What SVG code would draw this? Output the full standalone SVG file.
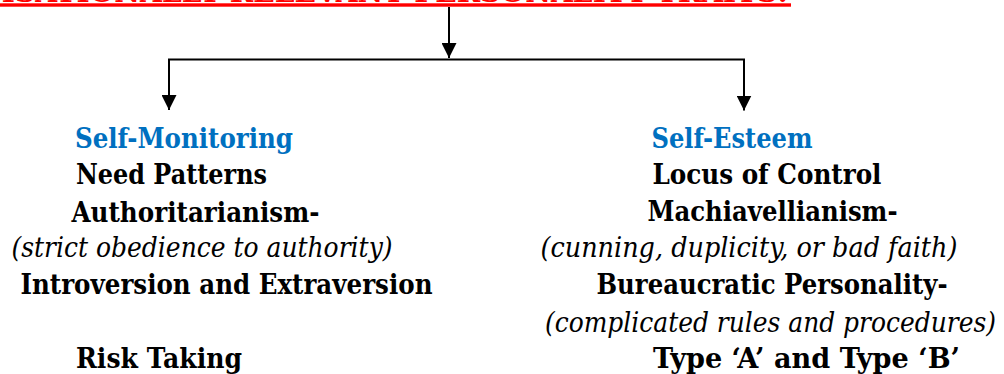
<svg xmlns="http://www.w3.org/2000/svg" width="1004" height="374" viewBox="0 0 1004 374">
<style>
text{font-family:'DejaVu Serif','Liberation Serif',serif;font-size:28px;fill:#000}
.b{font-weight:bold}
.i{font-style:italic}
.blue{fill:#0070C0}
.title{font-weight:bold;fill:#FF0000}
.con{stroke:#000;stroke-width:2;fill:none}
</style>
<defs>
<marker id="arr" viewBox="0 0 10 10" refX="10" refY="5" markerUnits="userSpaceOnUse" markerWidth="15" markerHeight="15" orient="auto">
<path d="M0,0 L10,5 L0,10 z" fill="#000"/>
</marker>
</defs>
<rect width="1004" height="374" fill="#fff"/>
<g id="title">
<text class="title" x="-118" y="2" textLength="906" lengthAdjust="spacingAndGlyphs">ORGANISATIONALLY RELEVANT PERSONALITY TRAITS:</text>
<rect x="0" y="3.3" width="791" height="3.4" fill="#FF0000"/>
</g>
<g id="connectors">
<path class="con" d="M449,7 V58" marker-end="url(#arr)"/>
<path class="con" d="M168,59.5 H745"/>
<path class="con" d="M169,59.5 V110" marker-end="url(#arr)"/>
<path class="con" d="M744,59.5 V110.5" marker-end="url(#arr)"/>
</g>
<g id="left">
<text class="b blue" x="75" y="148" textLength="218" lengthAdjust="spacingAndGlyphs">Self-Monitoring</text>
<text class="b" x="76" y="184" textLength="191" lengthAdjust="spacingAndGlyphs">Need Patterns</text>
<text class="b" x="71.5" y="221.5" textLength="248" lengthAdjust="spacingAndGlyphs">Authoritarianism-</text>
<text class="i" x="11.5" y="257" textLength="381" lengthAdjust="spacingAndGlyphs">(strict obedience to authority)</text>
<text class="b" x="20.5" y="294" textLength="412" lengthAdjust="spacingAndGlyphs">Introversion and Extraversion</text>
<text class="b" x="76" y="368" textLength="166" lengthAdjust="spacingAndGlyphs">Risk Taking</text>
</g>
<g id="right">
<text class="b blue" x="651.5" y="148" textLength="161" lengthAdjust="spacingAndGlyphs">Self-Esteem</text>
<text class="b" x="652.5" y="184" textLength="229" lengthAdjust="spacingAndGlyphs">Locus of Control</text>
<text class="b" x="647.5" y="221" textLength="250" lengthAdjust="spacingAndGlyphs">Machiavellianism-</text>
<text class="i" x="540.5" y="257" textLength="417" lengthAdjust="spacingAndGlyphs">(cunning, duplicity, or bad faith)</text>
<text class="b" x="596.5" y="294" textLength="351" lengthAdjust="spacingAndGlyphs">Bureaucratic Personality-</text>
<text class="i" x="545" y="331.5" textLength="451" lengthAdjust="spacingAndGlyphs">(complicated rules and procedures)</text>
<text class="b" x="653" y="368" textLength="307" lengthAdjust="spacingAndGlyphs">Type ‘A’ and Type ‘B’</text>
</g>
</svg>
